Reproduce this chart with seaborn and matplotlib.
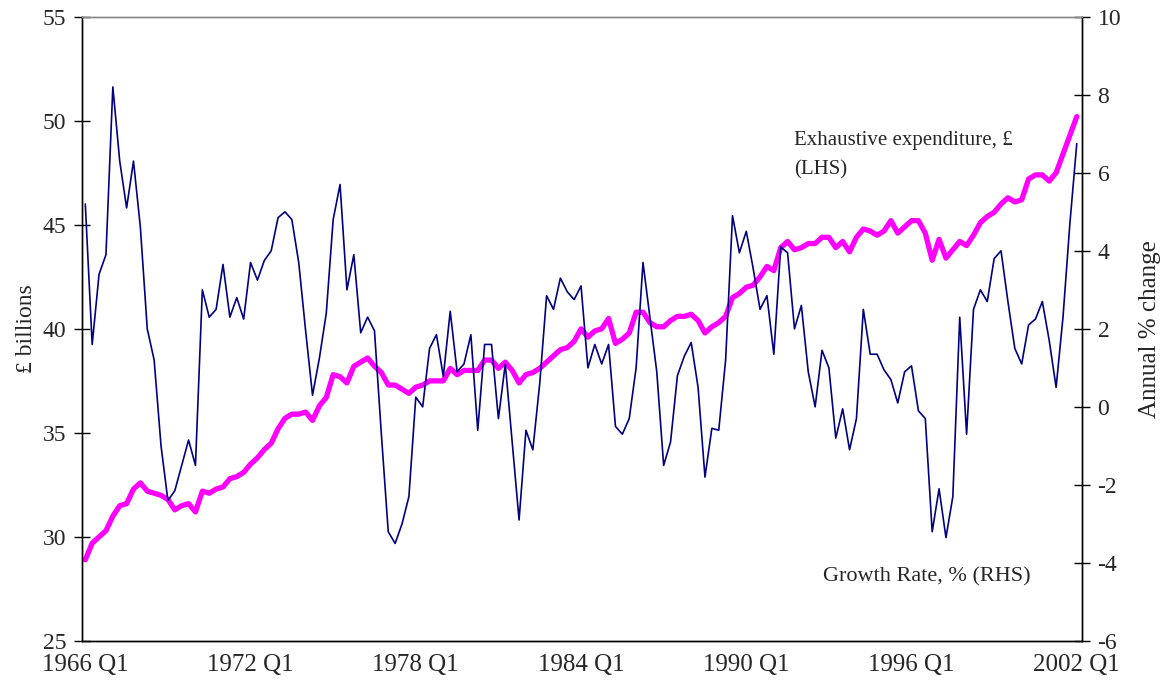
import numpy as np
import pandas as pd
import matplotlib.pyplot as plt
import seaborn as sns

# Quarterly data 1966 Q1 - 2002 Q1
years = list(range(1966, 2003))
quarters = [f"{y} Q{q}" for y in years for q in range(1, 5)][:145]

# Exhaustive expenditure, £ billions (LHS)
expenditure = [
    28.9, 29.7, 30.0, 30.3, 31.0, 31.5, 31.6, 32.3, 32.6, 32.2,
    32.1, 32.0, 31.8, 31.3, 31.5, 31.6, 31.2, 32.2, 32.1, 32.3,
    32.4, 32.8, 32.9, 33.1, 33.5, 33.8, 34.2, 34.5, 35.2, 35.7,
    35.9, 35.9, 36.0, 35.6, 36.3, 36.7, 37.8, 37.7, 37.4, 38.2,
    38.4, 38.6, 38.2, 37.9, 37.3, 37.3, 37.1, 36.9, 37.2, 37.3,
    37.5, 37.5, 37.5, 38.1, 37.8, 38.0, 38.0, 38.0, 38.5, 38.5,
    38.1, 38.4, 38.0, 37.4, 37.8, 37.9, 38.1, 38.4, 38.7, 39.0,
    39.1, 39.4, 40.0, 39.6, 39.9, 40.0, 40.5, 39.3, 39.5, 39.8,
    40.8, 40.8, 40.3, 40.1, 40.1, 40.4, 40.6, 40.6, 40.7, 40.4,
    39.8, 40.1, 40.3, 40.6, 41.5, 41.7, 42.0, 42.1, 42.5, 43.0,
    42.8, 43.9, 44.2, 43.8, 43.9, 44.1, 44.1, 44.4, 44.4, 43.9,
    44.2, 43.7, 44.4, 44.8, 44.7, 44.5, 44.7, 45.2, 44.6, 44.9,
    45.2, 45.2, 44.6, 43.3, 44.3, 43.4, 43.8, 44.2, 44.0, 44.5,
    45.1, 45.4, 45.6, 46.0, 46.3, 46.1, 46.2, 47.2, 47.4, 47.4,
    47.1, 47.5, 48.4, 49.3, 50.2,
]

# Growth rate, annual % change (RHS)
growth = [
    5.2, 1.6, 3.4, 3.9, 8.2, 6.3, 5.1, 6.3, 4.6, 2.0,
    1.2, -1.0, -2.4, -2.15, -1.5, -0.85, -1.5, 3.0, 2.3, 2.5,
    3.65, 2.3, 2.8, 2.25, 3.7, 3.25, 3.75, 4.0, 4.85, 5.0,
    4.8, 3.7, 1.95, 0.3, 1.25, 2.4, 4.8, 5.7, 3.0, 3.9,
    1.9, 2.3, 1.95, -0.7, -3.2, -3.5, -3.0, -2.3, 0.25, 0.0,
    1.5, 1.85, 0.78, 2.45, 0.9, 1.1, 1.85, -0.6, 1.6, 1.6,
    -0.3, 1.1, -0.9, -2.9, -0.6, -1.1, 0.6, 2.85, 2.5, 3.3,
    2.95, 2.75, 3.1, 1.0, 1.6, 1.1, 1.6, -0.5, -0.7, -0.3,
    1.0, 3.7, 2.3, 0.9, -1.5, -0.9, 0.8, 1.3, 1.65, 0.5,
    -1.8, -0.55, -0.6, 1.2, 4.9, 3.95, 4.5, 3.55, 2.5, 2.85,
    1.35, 4.1, 3.95, 2.0, 2.6, 0.9, 0.0, 1.45, 1.0, -0.8,
    -0.05, -1.1, -0.3, 2.5, 1.35, 1.35, 0.95, 0.7, 0.1, 0.9,
    1.05, -0.1, -0.3, -3.2, -2.1, -3.35, -2.3, 2.3, -0.7, 2.5,
    3.0, 2.7, 3.8, 4.0, 2.7, 1.5, 1.1, 2.1, 2.25, 2.7,
    1.7, 0.5, 2.3, 4.7, 6.75,
]

df = pd.DataFrame({"q": np.arange(len(quarters)), "quarter": quarters,
                   "expenditure": expenditure, "growth": growth})

sns.set_style("white")
plt.rcParams['font.family'] = ['Liberation Serif', 'DejaVu Serif']
plt.rcParams['axes.unicode_minus'] = False

fig = plt.figure(figsize=(11.63, 6.91), dpi=100)
ax = fig.add_axes([0.0705, 0.0724, 0.8595, 0.9034])

sns.lineplot(data=df, x="q", y="expenditure", ax=ax, color="#FF00FF", linewidth=3.8)
ax2 = ax.twinx()
sns.lineplot(data=df, x="q", y="growth", ax=ax2, color="#000080", linewidth=1.2)

ax.set_xlim(-0.48, 144.7)
ax.set_ylim(25, 55)
ax2.set_ylim(-6, 10)
ax.set_yticks(range(25, 56, 5))
ax2.set_yticks(range(-6, 11, 2))

major = df["q"][::24]
ax.set_xticks(major)
ax.set_xticklabels(df["quarter"][::24])
ax.set_xticks(df["q"][::4], minor=True)

ax.set_xlabel("")
ax.set_ylabel("£ billions", fontsize=17, labelpad=4)
ax2.set_ylabel("Annual % change", fontsize=18, labelpad=13)

for a in (ax, ax2):
    a.tick_params(axis="both", which="both", direction="inout", length=11,
                  width=1, color="black", labelsize=17, pad=6)
    for side in ("left", "right", "bottom"):
        a.spines[side].set_color("black")
        a.spines[side].set_linewidth(1)
    a.spines["top"].set_color("#888888")
    a.spines["top"].set_linewidth(1)
ax.tick_params(axis="x", which="major", labelsize=18, pad=4)
ax.tick_params(axis="x", which="minor", length=11)

ax.text(103, 48.35, "Exhaustive expenditure, £\n(LHS)", fontsize=15,
        va="center", ha="left", linespacing=1.75)
ax.text(107.2, 28.1, "Growth Rate, % (RHS)", fontsize=16, va="center", ha="left")

fig.savefig("out.png", dpi=100)
